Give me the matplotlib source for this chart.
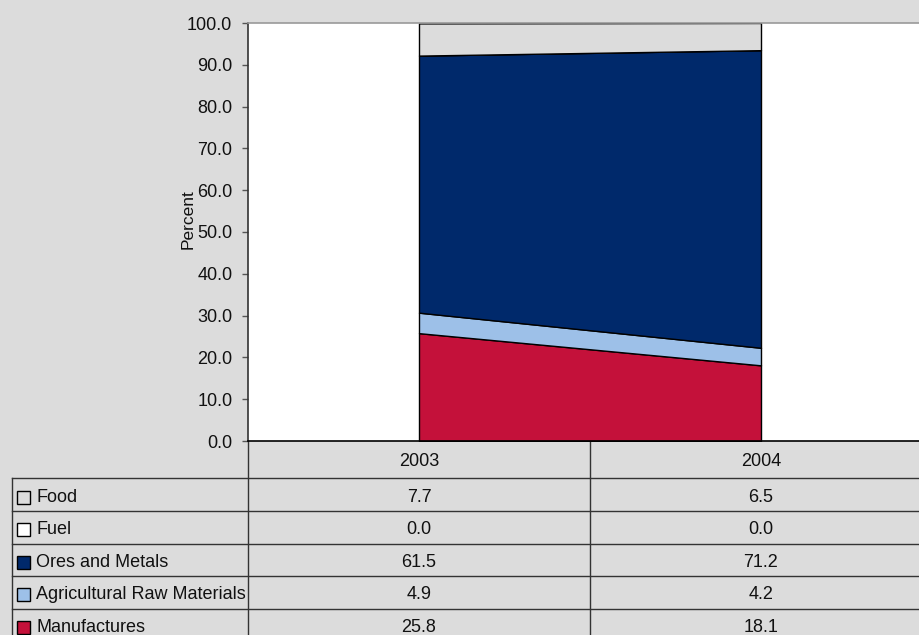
import matplotlib
matplotlib.use('Agg')
import matplotlib.pyplot as plt
from matplotlib.patches import Rectangle

plt.rcParams['font.family'] = ['Liberation Sans', 'DejaVu Sans']

years = ['2003', '2004']
series = ['Food', 'Fuel', 'Ores and Metals', 'Agricultural Raw Materials', 'Manufactures']
food = [7.7, 6.5]
fuel = [0.0, 0.0]
ores = [61.5, 71.2]
agri = [4.9, 4.2]
manuf = [25.8, 18.1]
colors = {'Food': '#dcdcdc', 'Fuel': '#ffffff', 'Ores and Metals': '#00296b',
          'Agricultural Raw Materials': '#9dc0e8', 'Manufactures': '#c4113a'}
values = {'Food': food, 'Fuel': fuel, 'Ores and Metals': ores,
          'Agricultural Raw Materials': agri, 'Manufactures': manuf}

W, H = 919, 635
BG = '#dcdcdc'
FS = 13

fig = plt.figure(figsize=(W / 100, H / 100), dpi=100, facecolor=BG)

# plot area in pixel terms: left 248, top 23, bottom 441, right runs past the edge
left, top, bottom, right = 248, 23, 441, 932
ax = fig.add_axes([left / W, 1 - bottom / H, (right - left) / W, (bottom - top) / H])
ax.set_facecolor('white')

x = list(range(len(years)))
stack_order = series[::-1]  # bottom to top
ax.stackplot(x, *[values[s] for s in stack_order],
             colors=[colors[s] for s in stack_order],
             edgecolor='black', linewidth=1.0)
ax.set_xlim(-0.5, 1.5)
ax.set_ylim(0, 100)
ax.set_yticks([i * 10 for i in range(11)])
ax.set_yticklabels([f'{i * 10:.1f}' for i in range(11)], fontsize=FS, color='#111111')
ax.set_xticks([])
ax.tick_params(axis='y', direction='out', length=4.3, width=1, color='#555555', pad=7)
ax.spines['left'].set_color('#333333')
ax.spines['top'].set_color('#999999')
ax.spines['bottom'].set_color('black')
ax.spines['right'].set_visible(False)
for sp in ax.spines.values():
    sp.set_linewidth(1.2)

fig.text(188 / W, 1 - 219 / H, 'Percent', rotation=90, ha='center', va='center',
         fontsize=FS - 0.5, color='#111111')

# data table underneath, drawn in pixel coordinates
tab = fig.add_axes([0, 0, 1, 1], zorder=-1)
tab.set_xlim(0, W)
tab.set_ylim(H, 0)
tab.axis('off')
tab.patch.set_alpha(0)

col_x = [12, 248, 590, 932]
row_y = [441, 478, 511, 543.5, 576, 608.5, 641]
lc = '#333333'

for yy in row_y[1:]:
    tab.plot([col_x[0], W], [yy, yy], color=lc, lw=1)
tab.plot([col_x[0], col_x[0]], [row_y[1], H], color=lc, lw=1)
tab.plot([col_x[1], col_x[1]], [row_y[0], H], color=lc, lw=1)
tab.plot([col_x[2], col_x[2]], [row_y[0], H], color=lc, lw=1)

for j, yr in enumerate(years):
    cx = (col_x[j + 1] + col_x[j + 2]) / 2
    tab.text(cx, (row_y[0] + row_y[1]) / 2 + 1.5, yr, ha='center', va='center',
             fontsize=FS, color='#111111')

for i, s in enumerate(series):
    cy = (row_y[i + 1] + row_y[i + 2]) / 2 + 2.5
    tab.add_patch(Rectangle((17, cy - 6.5), 13, 13, facecolor=colors[s],
                            edgecolor='black', lw=1))
    tab.text(36, cy, s, ha='left', va='center', fontsize=FS, color='#111111')
    for j in range(len(years)):
        cx = (col_x[j + 1] + col_x[j + 2]) / 2
        tab.text(cx, cy, f'{values[s][j]:.1f}', ha='center', va='center',
                 fontsize=FS, color='#111111')

fig.savefig('out.png', dpi=100, facecolor=BG)
